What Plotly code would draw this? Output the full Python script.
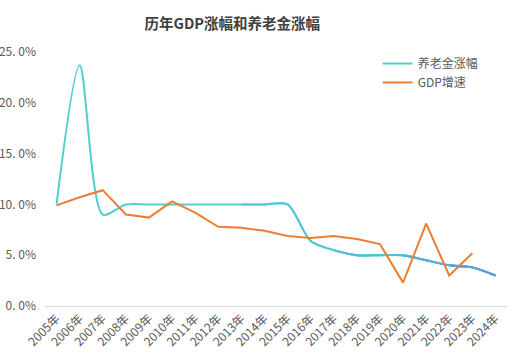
import plotly.graph_objects as go

years = [f"{y}年" for y in range(2005, 2025)]
pension = [10.0, 23.7, 9.0, 10.0, 10.0, 10.0, 10.0, 10.0, 10.0, 10.0, 10.0,
           6.4, 5.5, 5.0, 5.0, 5.0, 4.5, 4.0, 3.8, 3.0]
gdp = [9.9, 10.7, 11.4, 9.0, 8.7, 10.3, 9.2, 7.8, 7.7, 7.4, 6.9,
       6.7, 6.9, 6.6, 6.1, 2.3, 8.1, 3.0, 5.2, None]
y_ticks = [0, 5, 10, 15, 20, 25]
y_labels = ["0. 0%", "5. 0%", "10. 0%", "15. 0%", "20. 0%", "25. 0%"]

FONT = "Noto Sans CJK SC"

# gradient of the pension line approximated by overlaying tail segments
grad = [(0, "#50D0CF"), (8, "#53C8D5"), (12, "#56BCD9"), (15, "#59ADD9"), (17, "#5B9FD6")]

fig = go.Figure()
for i, (start, col) in enumerate(grad):
    fig.add_trace(go.Scatter(
        x=years[start:], y=pension[start:], name="养老金涨幅", mode="lines",
        line=dict(color=col, width=2, shape="spline", smoothing=0.8),
        showlegend=(i == 0), legendrank=1,
    ))
fig.add_trace(go.Scatter(
    x=years, y=gdp, name="GDP增速", mode="lines",
    line=dict(color="#ED7D31", width=2), legendrank=2,
))

fig.update_layout(
    width=528, height=363,
    margin=dict(l=45, r=21, t=52, b=57, autoexpand=False),
    paper_bgcolor="white", plot_bgcolor="white",
    font=dict(family=FONT, color="#595959", size=12),
    title=dict(text="<b>历年GDP涨幅和养老金涨幅</b>", x=0.44, xanchor="center",
               y=1 - 24 / 363, yanchor="middle", yref="container",
               font=dict(family=FONT, size=14.5, color="#404040"),
               automargin=False),
    legend=dict(x=0.72, y=1.012, xanchor="left", yanchor="top",
                font=dict(family=FONT, size=12, color="#595959"),
                bgcolor="rgba(0,0,0,0)", tracegroupgap=0),
    showlegend=True,
)
fig.update_xaxes(type="category", range=[-0.5, 19.5], showgrid=False, showline=True,
                 linecolor="#D9D9D9", linewidth=1, ticks="", tickangle=-45,
                 tickfont=dict(size=12, color="#595959"), automargin=False,
                 zeroline=False, fixedrange=True)
fig.update_yaxes(range=[0, 25], tickvals=y_ticks, ticktext=y_labels, showgrid=False,
                 zeroline=False, showline=False, ticks="", ticklabelstandoff=8,
                 automargin=False,
                 tickfont=dict(size=12, color="#595959"), fixedrange=True)

fig.write_html("out.html", config={"displayModeBar": False},
               post_script="document.body.style.margin='0';")
